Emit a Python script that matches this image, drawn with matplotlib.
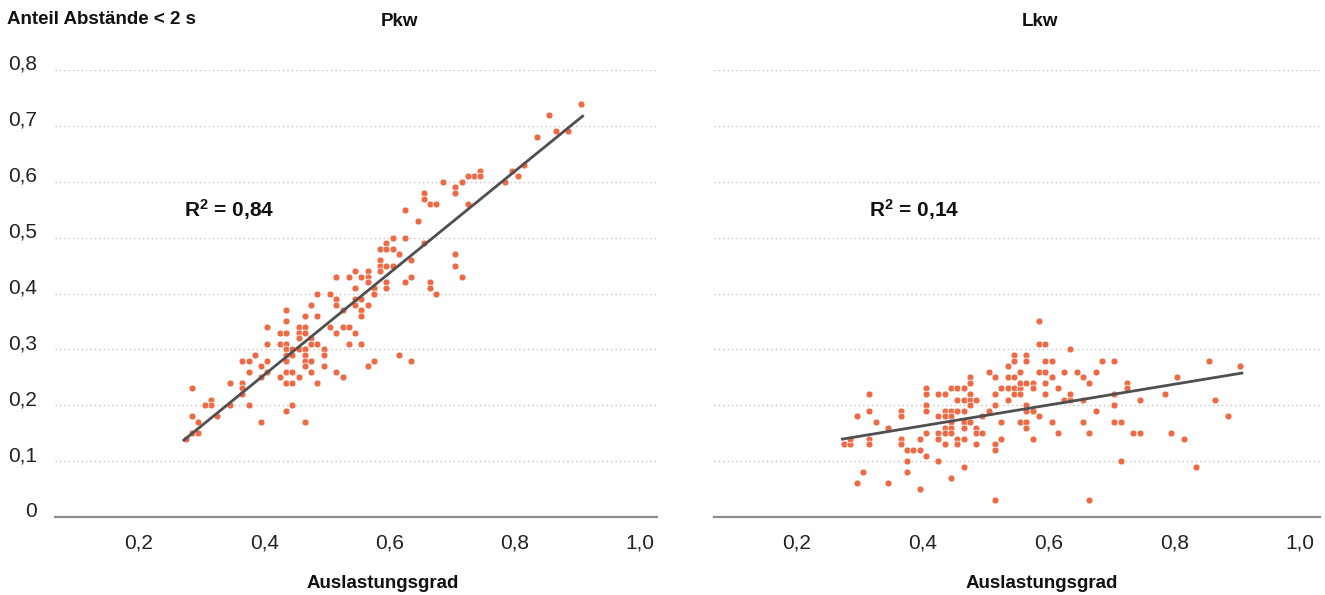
import matplotlib
matplotlib.use("Agg")
import matplotlib.pyplot as plt
from matplotlib.ticker import FuncFormatter

plt.rcParams['font.family'] = ['Liberation Sans', 'DejaVu Sans']
plt.rcParams['mathtext.fontset'] = 'custom'
plt.rcParams['mathtext.rm'] = 'Liberation Sans:bold'
plt.rcParams['mathtext.it'] = 'Liberation Sans:bold'
plt.rcParams['mathtext.bf'] = 'Liberation Sans:bold'

# Pkw: Auslastungsgrad (x) vs. Anteil Abstaende < 2 s (y)
pkw_x = [0.905, 0.855, 0.865, 0.885, 0.835, 0.815, 0.795, 0.805, 0.785, 0.745,
         0.735, 0.745, 0.725, 0.715, 0.705, 0.705, 0.685, 0.725, 0.655, 0.655,
         0.665, 0.675, 0.645, 0.655, 0.705, 0.705, 0.715, 0.665, 0.665, 0.675,
         0.625, 0.625, 0.605, 0.595, 0.585, 0.595, 0.605, 0.615, 0.585, 0.585,
         0.595, 0.605, 0.585, 0.575, 0.575, 0.595, 0.595, 0.635, 0.635, 0.625,
         0.545, 0.555, 0.565, 0.565, 0.565, 0.535, 0.515, 0.545, 0.545, 0.555,
         0.555, 0.555, 0.565, 0.525, 0.515, 0.515, 0.505, 0.485, 0.475, 0.465,
         0.485, 0.435, 0.545, 0.435, 0.405, 0.425, 0.435, 0.455, 0.465, 0.455,
         0.465, 0.455, 0.505, 0.525, 0.535, 0.515, 0.545, 0.475, 0.475, 0.485,
         0.425, 0.435, 0.405, 0.535, 0.555, 0.435, 0.435, 0.435, 0.445, 0.445,
         0.455, 0.465, 0.465, 0.465, 0.465, 0.495, 0.495, 0.475, 0.495, 0.475,
         0.515, 0.525, 0.485, 0.425, 0.435, 0.445, 0.435, 0.445, 0.455, 0.405,
         0.395, 0.395, 0.375, 0.365, 0.385, 0.375, 0.405, 0.365, 0.365, 0.365,
         0.345, 0.375, 0.345, 0.325, 0.315, 0.315, 0.305, 0.285, 0.285, 0.295,
         0.285, 0.295, 0.275, 0.395, 0.435, 0.445, 0.465, 0.565, 0.575, 0.615,
         0.635]
pkw_y = [0.74, 0.72, 0.69, 0.69, 0.68, 0.63, 0.62, 0.61, 0.60, 0.62,
         0.61, 0.61, 0.61, 0.60, 0.59, 0.58, 0.60, 0.56, 0.58, 0.57,
         0.56, 0.56, 0.53, 0.49, 0.47, 0.45, 0.43, 0.42, 0.41, 0.40,
         0.55, 0.50, 0.50, 0.49, 0.48, 0.48, 0.48, 0.47, 0.46, 0.45,
         0.45, 0.45, 0.44, 0.41, 0.40, 0.42, 0.41, 0.46, 0.43, 0.42,
         0.44, 0.43, 0.44, 0.43, 0.42, 0.43, 0.43, 0.41, 0.39, 0.39,
         0.37, 0.36, 0.38, 0.37, 0.39, 0.38, 0.40, 0.40, 0.38, 0.36,
         0.36, 0.37, 0.38, 0.35, 0.34, 0.33, 0.33, 0.34, 0.34, 0.33,
         0.33, 0.32, 0.34, 0.34, 0.34, 0.33, 0.33, 0.32, 0.31, 0.31,
         0.31, 0.31, 0.31, 0.31, 0.31, 0.30, 0.29, 0.28, 0.30, 0.29,
         0.30, 0.30, 0.29, 0.28, 0.27, 0.30, 0.29, 0.28, 0.27, 0.26,
         0.26, 0.25, 0.24, 0.25, 0.26, 0.26, 0.24, 0.24, 0.25, 0.28,
         0.27, 0.25, 0.28, 0.28, 0.29, 0.26, 0.26, 0.24, 0.23, 0.22,
         0.24, 0.20, 0.20, 0.18, 0.21, 0.20, 0.20, 0.23, 0.18, 0.17,
         0.15, 0.15, 0.14, 0.17, 0.19, 0.20, 0.17, 0.27, 0.28, 0.29,
         0.28]

# Lkw
lkw_x = [0.275, 0.285, 0.285, 0.295, 0.315, 0.315, 0.315, 0.315, 0.325, 0.295,
         0.305, 0.345, 0.345, 0.365, 0.365, 0.365, 0.365, 0.375, 0.385, 0.395,
         0.375, 0.375, 0.395, 0.395, 0.405, 0.405, 0.405, 0.405, 0.405, 0.405,
         0.425, 0.435, 0.425, 0.435, 0.435, 0.425, 0.425, 0.435, 0.435, 0.435,
         0.425, 0.445, 0.455, 0.465, 0.445, 0.445, 0.445, 0.445, 0.445, 0.455,
         0.465, 0.455, 0.465, 0.455, 0.465, 0.455, 0.445, 0.465, 0.465, 0.465,
         0.475, 0.475, 0.475, 0.475, 0.475, 0.475, 0.485, 0.485, 0.485, 0.485,
         0.495, 0.495, 0.505, 0.505, 0.515, 0.515, 0.515, 0.515, 0.515, 0.515,
         0.525, 0.525, 0.525, 0.535, 0.535, 0.535, 0.535, 0.545, 0.545, 0.545,
         0.545, 0.545, 0.555, 0.555, 0.555, 0.555, 0.565, 0.565, 0.565, 0.575,
         0.575, 0.555, 0.565, 0.565, 0.565, 0.565, 0.575, 0.575, 0.585, 0.585,
         0.595, 0.585, 0.595, 0.595, 0.605, 0.595, 0.595, 0.605, 0.585, 0.605,
         0.615, 0.615, 0.625, 0.625, 0.635, 0.635, 0.635, 0.645, 0.655, 0.655,
         0.655, 0.665, 0.665, 0.665, 0.675, 0.675, 0.685, 0.705, 0.705, 0.705,
         0.705, 0.715, 0.715, 0.725, 0.725, 0.735, 0.745, 0.745, 0.785, 0.795,
         0.805, 0.815, 0.835, 0.855, 0.865, 0.885, 0.905]
lkw_y = [0.13, 0.13, 0.14, 0.18, 0.22, 0.19, 0.14, 0.13, 0.17, 0.06,
         0.08, 0.16, 0.06, 0.19, 0.18, 0.14, 0.13, 0.12, 0.12, 0.12,
         0.10, 0.08, 0.14, 0.05, 0.23, 0.22, 0.20, 0.19, 0.15, 0.11,
         0.22, 0.22, 0.18, 0.19, 0.18, 0.15, 0.14, 0.16, 0.15, 0.13,
         0.10, 0.23, 0.23, 0.23, 0.19, 0.18, 0.17, 0.16, 0.15, 0.21,
         0.21, 0.19, 0.19, 0.14, 0.14, 0.13, 0.07, 0.09, 0.17, 0.16,
         0.25, 0.24, 0.22, 0.21, 0.20, 0.17, 0.21, 0.16, 0.15, 0.13,
         0.18, 0.15, 0.26, 0.19, 0.25, 0.22, 0.20, 0.13, 0.12, 0.03,
         0.17, 0.14, 0.23, 0.27, 0.25, 0.23, 0.21, 0.29, 0.28, 0.25,
         0.23, 0.22, 0.23, 0.22, 0.26, 0.24, 0.29, 0.28, 0.24, 0.24,
         0.23, 0.17, 0.20, 0.19, 0.17, 0.16, 0.19, 0.14, 0.35, 0.31,
         0.31, 0.26, 0.26, 0.28, 0.28, 0.24, 0.22, 0.25, 0.18, 0.17,
         0.23, 0.15, 0.26, 0.21, 0.21, 0.22, 0.30, 0.26, 0.25, 0.21,
         0.17, 0.24, 0.15, 0.03, 0.26, 0.19, 0.28, 0.28, 0.22, 0.20,
         0.17, 0.17, 0.10, 0.24, 0.23, 0.15, 0.15, 0.21, 0.22, 0.15,
         0.25, 0.14, 0.09, 0.28, 0.21, 0.18, 0.27]

# trend lines (start / end)
fit_x = [0.27, 0.91]
pkw_fit = [0.136, 0.719]
lkw_fit = [0.139, 0.258]

panels = ["Pkw", "Lkw"]
r2_labels = ["R$^2$ = 0,84", "R$^2$ = 0,14"]
x_ticks = [0.2, 0.4, 0.6, 0.8, 1.0]
y_ticks = [0, 0.1, 0.2, 0.3, 0.4, 0.5, 0.6, 0.7, 0.8]

DOT = '#ef6a44'
LINE = '#4f4f4f'
W, H = 1325, 595

fig = plt.figure(figsize=(W / 100, H / 100), dpi=100)

def comma(v, pos):
    if abs(v) < 1e-9:
        return "0"
    return f"{v:.1f}".replace(".", ",")

boxes = [(55, 657, (0.066, 1.027)), (714, 1320, (0.068, 1.032))]
data = [(pkw_x, pkw_y, pkw_fit), (lkw_x, lkw_y, lkw_fit)]
r2_pos = [(0.272, 0.55), (0.315, 0.55)]

for i, ((x0, x1, xl), (xs, ys, fy)) in enumerate(zip(boxes, data)):
    ax = fig.add_axes([x0 / W, (H - 517) / H, (x1 - x0) / W, (517 - 70) / H])
    ax.set_xlim(*xl)
    ax.set_ylim(0, 0.8)
    for s in ['top', 'right', 'left']:
        ax.spines[s].set_visible(False)
    ax.spines['bottom'].set_color('#8c8c8c')
    ax.spines['bottom'].set_linewidth(1.6)
    for yv in y_ticks[1:]:
        ax.axhline(yv, color='#b8b8b8', lw=0.9, ls=(0, (1, 2.5)), zorder=0)

    ax.scatter(xs, ys, s=25, color=DOT, edgecolors='white', linewidths=0.5, zorder=3)
    ax.plot(fit_x, fy, color=LINE, lw=2.0, solid_capstyle='butt', zorder=4)

    ax.set_xticks(x_ticks)
    ax.xaxis.set_major_formatter(FuncFormatter(comma))
    ax.tick_params(axis='x', length=0, pad=12, labelsize=15, labelcolor='#222222')
    ax.set_yticks(y_ticks)
    if i == 0:
        ax.yaxis.set_major_formatter(FuncFormatter(comma))
        ax.tick_params(axis='y', length=0, pad=13, labelsize=15, labelcolor='#222222')
        for lab in ax.get_yticklabels():
            lab.set_verticalalignment('baseline')
    else:
        ax.tick_params(axis='y', length=0, labelleft=False)

    ax.text(r2_pos[i][0], r2_pos[i][1], r2_labels[i], fontsize=15, fontweight='bold',
            va='center', ha='left', color='#111111')

    fig.text((400 + i * 640) / W, 1 - 21 / H, panels[i], fontsize=13.5, fontweight='bold',
             ha='center', va='center', color='#111111')
    fig.text((383 + i * 659) / W, 1 - 583 / H, "Auslastungsgrad", fontsize=13.5,
             fontweight='bold', ha='center', va='center', color='#111111')

fig.text(7 / W, 1 - 20 / H, "Anteil Abstände < 2 s", fontsize=13.5, fontweight='bold',
         ha='left', va='center', color='#111111')

fig.savefig("out.png", dpi=100)
